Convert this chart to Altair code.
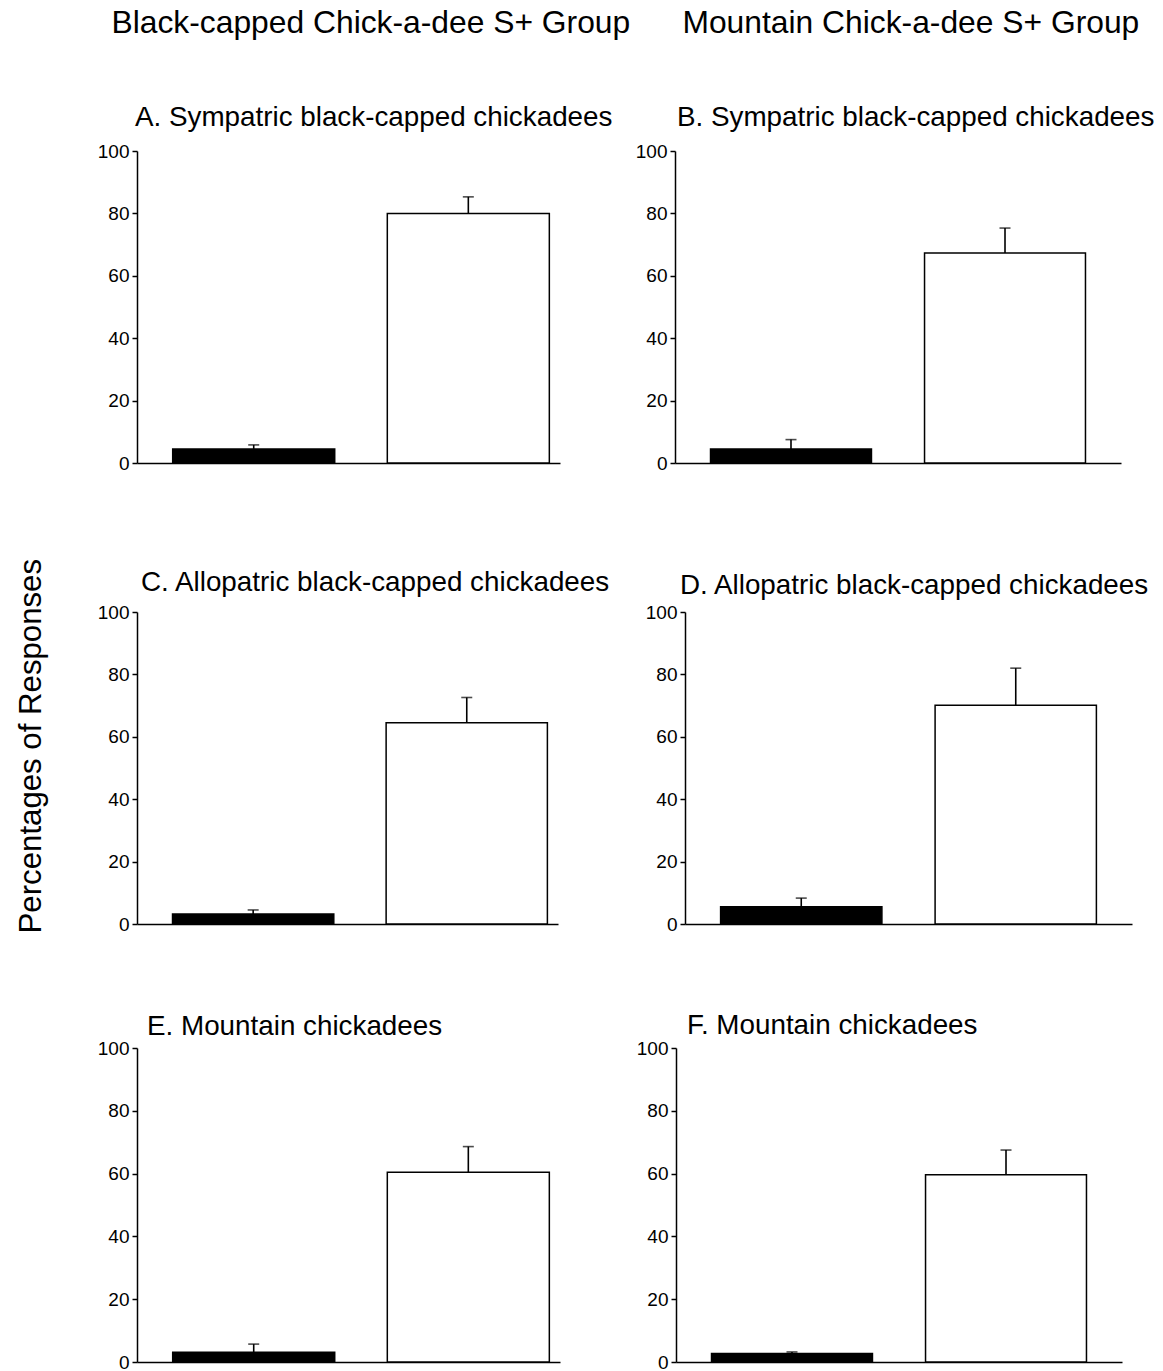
import altair as alt
import pandas as pd

# ---- data -------------------------------------------------------------
panel_titles = [
    "A. Sympatric black-capped chickadees",
    "B. Sympatric black-capped chickadees",
    "C. Allopatric black-capped chickadees",
    "D. Allopatric black-capped chickadees",
    "E. Mountain chickadees",
    "F. Mountain chickadees",
]
column_headers = ["Black-capped Chick-a-dee S+ Group", "Mountain Chick-a-dee S+ Group"]
y_title = "Percentages of Responses"
stimuli = ["S-", "S+"]

black_means = [4.5, 4.5, 3.2, 5.5, 3.1, 2.7]
black_errors = [1.3, 3.0, 1.3, 2.8, 2.6, 0.5]
white_means = [80.0, 67.3, 64.5, 70.1, 60.4, 59.6]
white_errors = [5.3, 8.0, 8.1, 11.9, 8.2, 7.9]

y_ticks = [0, 20, 40, 60, 80, 100]

FONT = "Liberation Sans"

# ---- layout per panel -------------------------------------------------
# width, height, title dy, title dx
panel_sizes = [
    (423, 312, 12, -2),
    (446, 312, 12, 2),
    (421, 312, 16, 4),
    (447, 312, 19, -5),
    (423, 314, 24, 10),
    (446, 314, 23, 11),
]
left_scale = alt.Scale(paddingInner=0.245, paddingOuter=0.108, align=0.77)
right_scale = alt.Scale(paddingInner=0.248, paddingOuter=0.166, align=0.5)


def panel(i):
    width, height, t_dy, t_dx = panel_sizes[i]
    df = pd.DataFrame({
        "stimulus": stimuli,
        "mean": [black_means[i], white_means[i]],
        "err": [black_errors[i], white_errors[i]],
    })
    df["upper"] = df["mean"] + df["err"]

    x = alt.X(
        "stimulus:N", sort=stimuli,
        scale=left_scale if i % 2 == 0 else right_scale,
        axis=alt.Axis(labels=False, ticks=False, title=None,
                      domainColor="black", domainWidth=1.5),
    )
    y_scale = alt.Scale(domain=[0, 100], nice=False)
    y = alt.Y(
        "mean:Q", scale=y_scale,
        axis=alt.Axis(values=y_ticks, title=None, grid=False,
                      domainColor="black", domainWidth=1.5,
                      tickColor="black", tickWidth=1.5, tickSize=5,
                      labelFont=FONT, labelFontSize=19, labelColor="black",
                      labelPadding=3),
    )
    base = alt.Chart(df)
    bars = base.mark_bar(stroke="black", strokeWidth=1.5).encode(
        x=x, y=y,
        fill=alt.Fill("stimulus:N",
                      scale=alt.Scale(domain=stimuli, range=["black", "white"]),
                      legend=None),
    )
    stem = base.mark_rule(color="black", strokeWidth=1.6).encode(
        x=x, y=alt.Y("mean:Q", scale=y_scale), y2="upper:Q"
    )
    cap = base.mark_tick(color="black", orient="horizontal",
                         size=11, thickness=1.6).encode(
        x=x, y=alt.Y("upper:Q", scale=y_scale)
    )
    return alt.layer(bars, stem, cap).properties(
        width=width, height=height,
        title=alt.TitleParams(
            panel_titles[i], font=FONT, fontSize=27.8, fontWeight="normal",
            color="black", anchor="start", frame="group",
            baseline="alphabetic", offset=0, dx=t_dx, dy=t_dy,
        ),
    )


def with_header(chart, text, dx):
    return alt.vconcat(
        chart,
        title=alt.TitleParams(
            text, font=FONT, fontSize=31.8, fontWeight="normal", color="black",
            anchor="middle", baseline="alphabetic", offset=39, dx=dx,
        ),
    )


row1 = alt.hconcat(
    with_header(panel(0), column_headers[0], 16),
    with_header(panel(1), column_headers[1], 16),
    spacing=4,
)
row2 = alt.hconcat(panel(2), panel(3), spacing=34)
row3 = alt.hconcat(panel(4), panel(5), spacing=76)

chart = alt.vconcat(
    row1,
    alt.vconcat(row2, row3, spacing=78),
    spacing=96,
    title=alt.TitleParams(
        y_title, orient="left", font=FONT, fontSize=31.2, fontWeight="normal",
        color="black", anchor="middle", offset=50, dx=-56,
    ),
).properties(
    padding={"left": 16, "top": 8, "right": 5, "bottom": 5},
).configure(
    background="white"
).configure_view(
    stroke=None
)

chart.save("out.html", embed_options={"renderer": "svg", "actions": False})
